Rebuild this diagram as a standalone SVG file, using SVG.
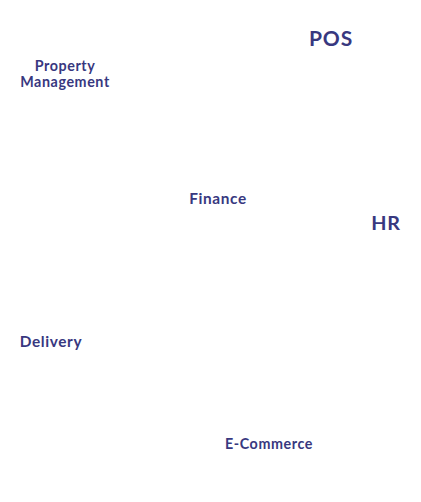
<svg xmlns="http://www.w3.org/2000/svg" width="421" height="502" viewBox="0 0 421 502">
<style>
text{font-family:Lato,"Open Sans",sans-serif;font-weight:bold;fill:#38387f;text-anchor:middle;letter-spacing:0.04em}
</style>
<rect width="421" height="502" fill="#fff"/>
<g id="connectors"/>
<g id="pos"><text x="331" y="46" font-size="21">POS</text></g>
<g id="property"><text x="65" y="71" font-size="14.3">Property</text><text x="65" y="87" font-size="14.3">Management</text></g>
<g id="finance"><text x="218" y="204" font-size="15.4">Finance</text></g>
<g id="hr"><text x="386" y="230" font-size="19.8">HR</text></g>
<g id="delivery"><text x="51" y="347" font-size="15.4">Delivery</text></g>
<g id="ecommerce"><text x="269" y="449" font-size="14.3">E-Commerce</text></g>
</svg>
